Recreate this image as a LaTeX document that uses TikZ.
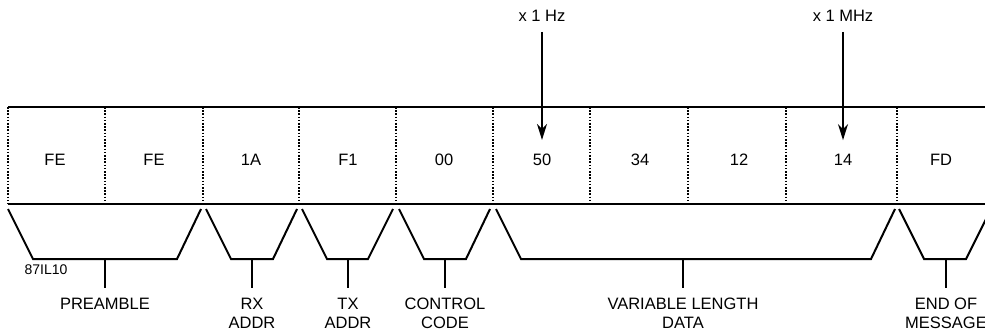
\documentclass[tikz,border=0pt]{standalone}
\usepackage{fontspec}
\setmainfont{Liberation Sans}
\usetikzlibrary{arrows.meta}
\tikzstyle{byte} = [align=center,inner sep=0pt,font=\fontsize{16.5}{19}\selectfont]
\tikzstyle{fieldname} = [align=center,inner sep=0pt,anchor=north,font=\fontsize{16.5}{19}\selectfont]
\tikzstyle{rule} = [line width=2.2pt]
\tikzstyle{divider} = [line width=1.6pt,dash pattern=on 1.6pt off 1.6pt]
\tikzstyle{bracket} = [line width=2pt,line join=miter]
\tikzstyle{pointer} = [line width=1.8pt,-{Stealth[length=16pt,width=10pt,inset=5pt]}]

\begin{document}
\begin{tikzpicture}[x=1pt,y=-1pt]
  \useasboundingbox (0,0) rectangle (985,334);
  % message bytes
  \node (b1) [byte] at (55,160) {FE};
  \node (b2) [byte] at (154,160) {FE};
  \node (b3) [byte] at (251,160) {1A};
  \node (b4) [byte] at (348,160) {F1};
  \node (b5) [byte] at (444,160) {00};
  \node (b6) [byte] at (542,160) {50};
  \node (b7) [byte] at (640,160) {34};
  \node (b8) [byte] at (739,160) {12};
  \node (b9) [byte] at (843,160) {14};
  \node (b10) [byte] at (941,160) {FD};
  \draw [rule] (8,107) -- (995,107);
  \draw [rule] (8,204) -- (995,204);
  \foreach \x in {8,105,203,299,396,493,590,688,786,897}
    \draw [divider] (\x,107) -- (\x,204);
  % groups
  \draw [bracket] (8,209) -- (33,259) -- (177,259) -- (201,209);
  \draw [bracket] (206,209) -- (231,259) -- (273,259) -- (297,209);
  \draw [bracket] (302,209) -- (327,259) -- (368,259) -- (393,209);
  \draw [bracket] (399,209) -- (424,259) -- (466,259) -- (490,209);
  \draw [bracket] (496,209) -- (521,259) -- (871,259) -- (895,209);
  \draw [bracket] (899,209) -- (924,259) -- (966,259) -- (991,209);
  \coordinate (g1) at (105,259);
  \coordinate (g2) at (252,259);
  \coordinate (g3) at (348,259);
  \coordinate (g4) at (445,259);
  \coordinate (g5) at (683,259);
  \coordinate (g6) at (946,259);
  \node (pre) [fieldname] at (105,298) {PREAMBLE};
  \node (rx) [fieldname] at (252,298) {RX\\ADDR};
  \node (tx) [fieldname] at (348,298) {TX\\ADDR};
  \node (ctl) [fieldname] at (445,298) {CONTROL\\CODE};
  \node (var) [fieldname] at (683,298) {VARIABLE LENGTH\\DATA};
  \node (eom) [fieldname] at (946,298) {END OF\\MESSAGE};
  \draw [rule] (g1) -- ([yshift=10pt]pre.north);
  \draw [rule] (g2) -- ([yshift=10pt]rx.north);
  \draw [rule] (g3) -- ([yshift=10pt]tx.north);
  \draw [rule] (g4) -- ([yshift=10pt]ctl.north);
  \draw [rule] (g5) -- ([yshift=10pt]var.north);
  \draw [rule] (g6) -- ([yshift=10pt]eom.north);
  \node (fig) [byte,font=\fontsize{14}{16}\selectfont] at (46,270) {87IL10};
  % frequency digits
  \node (hz) [byte] at (542,16) {x 1 Hz};
  \node (mhz) [byte] at (843,16) {x 1 MHz};
  \draw [pointer] ([yshift=-10pt]hz.south) -- ([yshift=14pt]b6.north);
  \draw [pointer] ([yshift=-10pt]mhz.south) -- ([yshift=14pt]b9.north);
\end{tikzpicture}
\end{document}
